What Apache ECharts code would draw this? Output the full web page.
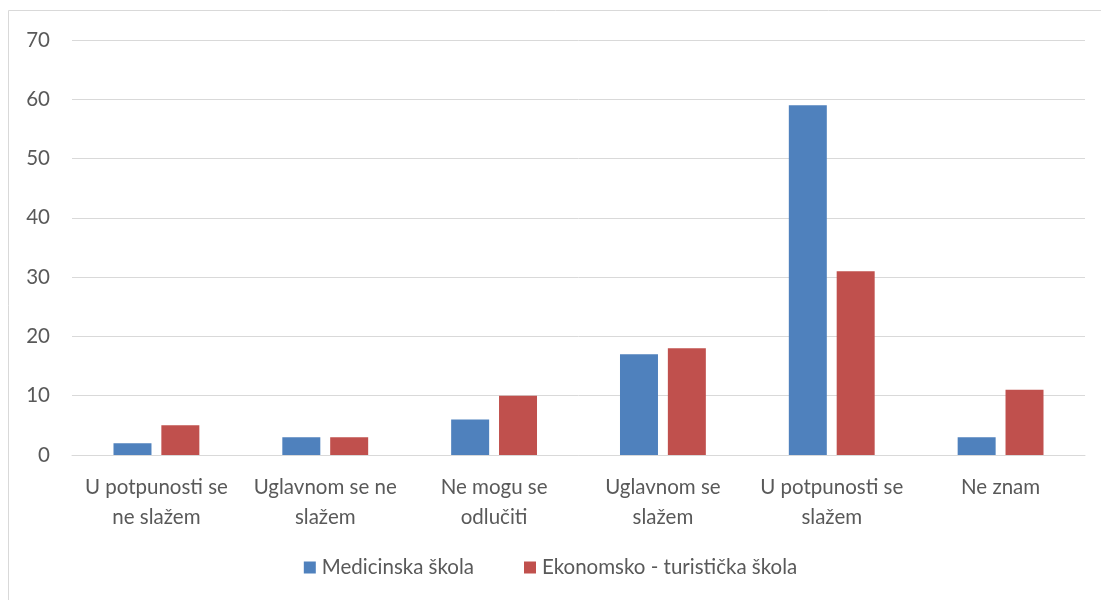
<!DOCTYPE html>
<html>
<head>
<meta charset="utf-8">
<script src="https://cdn.jsdelivr.net/npm/echarts@6/dist/echarts.min.js"></script>
<style>
html, body { margin: 0; padding: 0; background: #fff; }
#chart { width: 1101px; height: 600px; }
</style>
</head>
<body>
<div id="chart"></div>
<script>
const categories = [
    'U potpunosti se\nne slažem',
    'Uglavnom se ne\nslažem',
    'Ne mogu se\nodlučiti',
    'Uglavnom se\nslažem',
    'U potpunosti se\nslažem',
    'Ne znam',
];
const medicinska = [2, 3, 6, 17, 59, 3];
const ekonomska = [5, 3, 10, 18, 31, 11];
const seriesNames = ['Medicinska škola', 'Ekonomsko - turistička škola'];

const font = 'Lato, "Open Sans", sans-serif';

const option = {
    animation: false,
    textStyle: { fontFamily: font },
    graphic: [{
        type: 'rect',
        shape: { x: 8.5, y: 10.5, width: 1100, height: 600 },
        style: { fill: 'none', stroke: '#d9d9d9', lineWidth: 1 },
        silent: true,
    }],
    grid: {
        left: 72,
        top: 40,
        right: 16,
        bottom: 145,
    },
    legend: {
        bottom: 17,
        left: 'center',
        itemWidth: 12,
        itemHeight: 12,
        itemGap: 50,
        icon: 'rect',
        textStyle: { color: '#595959', fontSize: 20.5, fontFamily: font, padding: [0, 0, 0, 1] },
        data: seriesNames,
    },
    xAxis: {
        type: 'category',
        data: categories,
        axisLine: { lineStyle: { color: '#d9d9d9' } },
        axisTick: { show: false },
        axisLabel: {
            interval: 0,
            color: '#595959',
            fontSize: 20.5,
            lineHeight: 30,
            margin: 17,
            fontFamily: font,
        },
    },
    yAxis: {
        type: 'value',
        min: 0,
        max: 70,
        interval: 10,
        axisLine: { show: false },
        axisTick: { show: false },
        axisLabel: {
            color: '#595959',
            fontSize: 20.5,
            margin: 22,
            fontFamily: font,
        },
        splitLine: { lineStyle: { color: '#d9d9d9' } },
    },
    series: [{
        name: seriesNames[0],
        type: 'bar',
        data: medicinska,
        barWidth: '22.5%',
        barGap: '26%',
        itemStyle: { color: '#4f81bd' },
    }, {
        name: seriesNames[1],
        type: 'bar',
        data: ekonomska,
        barWidth: '22.5%',
        barGap: '26%',
        itemStyle: { color: '#c0504d' },
    }],
};

const chart = echarts.init(document.getElementById('chart'));
chart.setOption(option);
</script>
</body>
</html>
